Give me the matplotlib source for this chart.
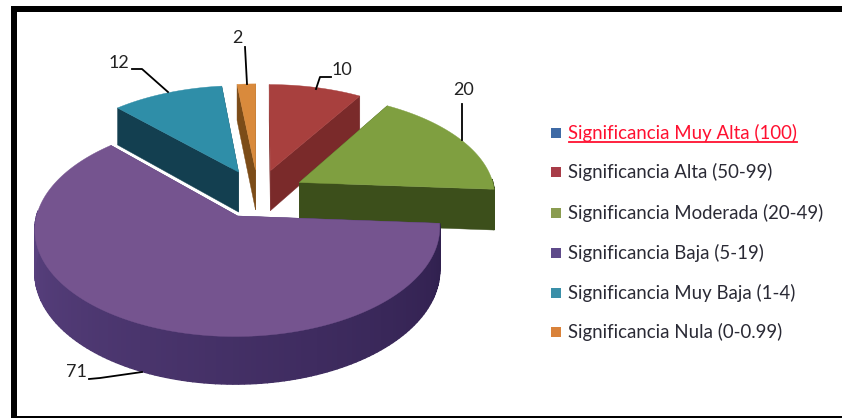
import numpy as np
import matplotlib
matplotlib.use("Agg")
import matplotlib.pyplot as plt
from matplotlib.patches import Polygon, Rectangle

# datos del grafico
categorias = ["Significancia Muy Alta (100)", "Significancia Alta (50-99)",
              "Significancia Moderada (20-49)", "Significancia Baja (5-19)",
              "Significancia Muy Baja (1-4)", "Significancia Nula (0-0.99)"]
valores = [0, 10, 20, 71, 12, 2]
etiquetas_y = [133, 172, 213, 253, 293, 332]

col_top = ["#3f6ba5", "#a8403e", "#7f9f40", "#75548f", "#2f8ea8", "#d98a3c"]
col_cut = ["#2a4a75", "#7a2a2a", "#3c4f1b", "#4a3370", "#133f50", "#7c4c18"]
col_lado_a = ["#2a4a75", "#7a2a2a", "#3c4f1b", "#2f1f4d", "#1a5060", "#8a5520"]
col_lado_b = ["#2a4a75", "#6a2020", "#3c4f1b", "#644a8c", "#133f50", "#7c4c18"]
col_leyenda = ["#3e6aa5", "#a83c48", "#8a9c50", "#5e4a8a", "#3a8fa8", "#d9823a"]

# proyeccion de la tarta: centro, radio, aplastado, perspectiva, grosor
CX, CY = 258.0, 193.5
R, RY, K, GROSOR, EXPLODE = 196.0, 101.0, 0.115, 41.0, 0.24


def proy(u, v, z=0.0):
    # z=0 cara de arriba, z=1 base
    u, v = np.asarray(u, float), np.asarray(v, float)
    s = 1 / (1 + K * v)
    return np.column_stack([CX + R * u * s, CY - RY * v * s + z * GROSOR * s])


fig = plt.figure(figsize=(8.42, 4.18), dpi=100)
ax = fig.add_axes([0, 0, 1, 1])
ax.set_xlim(0, 842)
ax.set_ylim(418, 0)
ax.axis("off")
plt.rcParams["font.family"] = ["Lato", "DejaVu Sans"]

# marco negro (sin lado derecho)
ax.add_patch(Rectangle((11, 6), 831, 6, fc="black", ec="none"))
ax.add_patch(Rectangle((11, 6), 6, 412, fc="black", ec="none"))
ax.add_patch(Rectangle((11, 416), 831, 2, fc="black", ec="none"))

# angulos (horario desde arriba)
fracs = np.array(valores) / sum(valores) * 2 * np.pi
fin = np.cumsum(fracs)
ini = fin - fracs

# de atras hacia delante
for i in [4, 5, 1, 2, 3]:
    a0, a1 = ini[i], fin[i]
    med = (a0 + a1) / 2
    ou, ov = EXPLODE * np.sin(med), EXPLODE * np.cos(med)
    t = np.linspace(a0, a1, max(int((a1 - a0) * 40), 6))
    au, av = ou + np.sin(t), ov + np.cos(t)

    # caras de corte
    for a in (a0, a1):
        uu = [ou, ou + np.sin(a)]
        vv = [ov, ov + np.cos(a)]
        pts = np.vstack([proy(uu, vv, 0), proy(uu[::-1], vv[::-1], 1)])
        ax.add_patch(Polygon(pts, fc=col_cut[i], ec=col_cut[i], lw=0.3))

    # lado exterior, solo la parte que mira al frente
    ca = np.array(matplotlib.colors.to_rgb(col_lado_a[i]))
    cb = np.array(matplotlib.colors.to_rgb(col_lado_b[i]))
    for j in range(len(t) - 1):
        if np.cos(t[j]) > 0.05:
            continue
        uu = au[j:j + 2]
        vv = av[j:j + 2]
        pts = np.vstack([proy(uu, vv, 0), proy(uu[::-1], vv[::-1], 1)])
        c = ca + (cb - ca) * j / (len(t) - 2)
        ax.add_patch(Polygon(pts, fc=c, ec=c, lw=1.0))

    # cara de arriba
    pts = proy(np.r_[ou, au], np.r_[ov, av], 0)
    ax.add_patch(Polygon(pts, fc=col_top[i], ec=col_top[i], lw=0.3))

# etiquetas de valor con su linea guia
txt_pos = {2: (237, 38), 12: (119, 63), 10: (342, 70), 20: (464, 90), 71: (76, 372)}
guias = {2: [(245, 47), (247, 84)], 12: [(132, 69), (142, 69), (168, 92)],
         10: [(331, 77), (320, 77), (316, 89)], 20: [(462, 104), (462, 140)],
         71: [(89, 379), (100, 378), (142, 372)]}
for v in valores[1:]:
    ax.text(*txt_pos[v], str(v), fontsize=13, color="#222222", ha="center", va="center")
    g = np.array(guias[v])
    ax.plot(g[:, 0], g[:, 1], color="black", lw=1.3)

# leyenda
for i, (cat, y) in enumerate(zip(categorias, etiquetas_y)):
    ax.add_patch(Rectangle((551, y - 5), 10, 10, fc=col_leyenda[i], ec="none"))
    c = "#ff1030" if i == 0 else "#2a2a35"
    ax.text(568, y, cat, fontsize=13.4, color=c, va="center", ha="left")
    if i == 0:
        ax.plot([569, 797], [y + 9, y + 9], color=c, lw=1.3)

fig.savefig("out.png", dpi=100)
